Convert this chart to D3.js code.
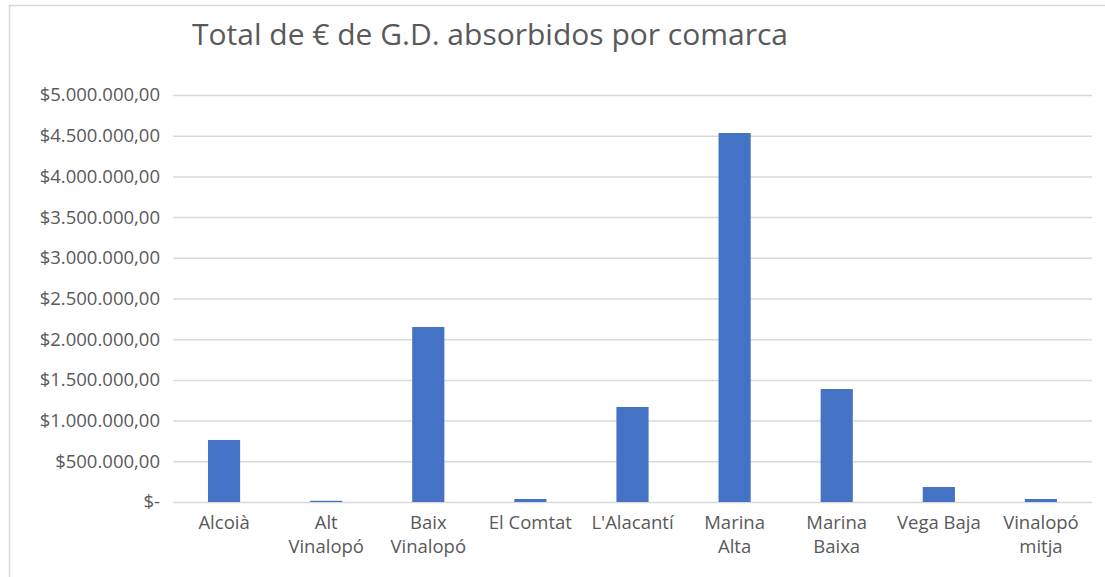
<!DOCTYPE html>
<html>
<head>
<meta charset="utf-8">
<script src="https://cdn.jsdelivr.net/npm/d3@7"></script>
<style>
  body { margin: 0; background: #fff; }
  text { fill: #595959; }
</style>
</head>
<body>
<div class="chart"></div>
<script>
// Chart data
var comarcas = ["Alcoià", "Alt Vinalopó", "Baix Vinalopó", "El Comtat", "L'Alacantí",
    "Marina Alta", "Marina Baixa", "Vega Baja", "Vinalopó mitja"];
var totals = [762000, 15000, 2150000, 37000, 1167000, 4533000, 1388000, 184000, 37000];
var yTicks = [0, 500000, 1000000, 1500000, 2000000, 2500000, 3000000, 3500000, 4000000, 4500000, 5000000];
var titleText = "Total de € de G.D. absorbidos por comarca";

var svgWidth = 1105;
var svgHeight = 577;
var margin = { top: 95, right: 13, bottom: 75, left: 173 };
var width = svgWidth - margin.left - margin.right;
var height = svgHeight - margin.top - margin.bottom;

var svg = d3.select(".chart")
    .append("svg")
    .attr("width", svgWidth)
    .attr("height", svgHeight);

// chart area border
svg.append("rect")
    .attr("x", 9.5)
    .attr("y", 5.5)
    .attr("width", 1110)
    .attr("height", 600)
    .attr("fill", "none")
    .attr("stroke", "#d9d9d9")
    .attr("stroke-width", 1.5);

svg.append("text")
    .attr("x", 490)
    .attr("y", 45)
    .attr("text-anchor", "middle")
    .style("font-family", "'Open Sans', sans-serif")
    .style("font-size", "30px")
    .text(titleText);

var chart = svg.append("g")
    .attr("transform", "translate(" + margin.left + "," + margin.top + ")");

var xScale = d3.scaleBand().domain(comarcas).range([0, width]).paddingInner(0.685).paddingOuter(0.3425);
var yScale = d3.scaleLinear().domain([0, 5000000]).range([height, 0]);

function fmt(v) {
    if (v === 0) return "$-";
    var s = d3.format(",.2f")(v);
    return "$" + s.replace(/,/g, "#").replace(".", ",").replace(/#/g, ".");
}

// gridlines + y labels
var leftAxis = d3.axisLeft(yScale)
    .tickValues(yTicks)
    .tickSize(-width)
    .tickPadding(13)
    .tickFormat(fmt);

var yAxis = chart.append("g").call(leftAxis);
yAxis.select(".domain").remove();
yAxis.selectAll(".tick line").attr("stroke", "#d9d9d9").attr("stroke-width", 1.5);
yAxis.selectAll(".tick text")
    .style("font-family", "'Open Sans', sans-serif")
    .style("font-size", "18.5px")
    .style("fill", "#595959");

// bars
chart.selectAll(".bar")
    .data(totals)
    .enter()
    .append("rect")
    .attr("class", "bar")
    .attr("x", function (d, i) { return xScale(comarcas[i]); })
    .attr("y", function (d) { return yScale(d); })
    .attr("width", xScale.bandwidth())
    .attr("height", function (d) { return height - yScale(d); })
    .attr("fill", "#4472c4");

// x labels (wrapped like the original)
var lines = {
    "Alt Vinalopó": ["Alt", "Vinalopó"],
    "Baix Vinalopó": ["Baix", "Vinalopó"],
    "Marina Alta": ["Marina", "Alta"],
    "Marina Baixa": ["Marina", "Baixa"],
    "Vinalopó mitja": ["Vinalopó", "mitja"]
};

var bottomAxis = d3.axisBottom(xScale).tickSize(0).tickFormat("");
var xAxis = chart.append("g")
    .attr("transform", "translate(0," + height + ")")
    .call(bottomAxis);
xAxis.select(".domain").remove();

xAxis.selectAll(".tick").each(function (c) {
    var parts = lines[c] || [c];
    var t = d3.select(this).append("text")
        .attr("text-anchor", "middle")
        .attr("y", 26.5)
        .style("font-family", "'Open Sans', sans-serif")
        .style("font-size", "18.5px")
        .style("fill", "#595959");
    parts.forEach(function (p, k) {
        t.append("tspan").attr("x", 0).attr("dy", k === 0 ? 0 : 24).text(p);
    });
});
</script>
</body>
</html>
